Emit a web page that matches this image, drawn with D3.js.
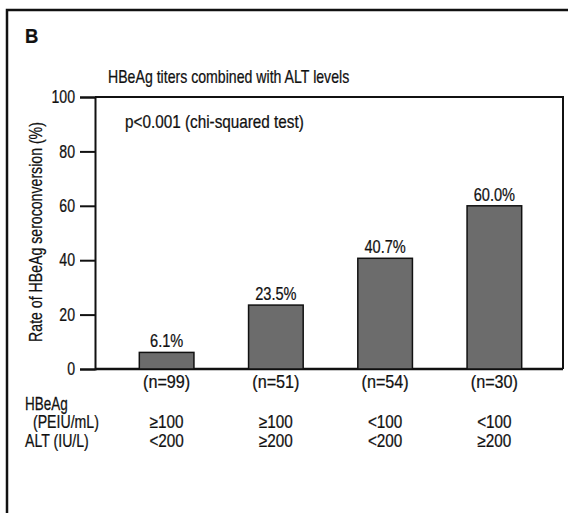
<!DOCTYPE html>
<html>
<head>
<meta charset="utf-8">
<script src="https://cdn.jsdelivr.net/npm/d3@7"></script>
<style>
  html, body { margin: 0; padding: 0; background: #fff; }
  svg text { font-family: "Liberation Sans", Arial, sans-serif; fill: #111; stroke: #111; stroke-width: 0.25px; }
</style>
</head>
<body>
<svg id="chart" width="568" height="513"></svg>
<script>
// Seroconversion rate by HBeAg titer / ALT group
const groups = ["g1", "g2", "g3", "g4"];
const rates = [6.1, 23.5, 40.7, 60.0];
const rateLabels = ["6.1%", "23.5%", "40.7%", "60.0%"];
const nLabels = ["(n=99)", "(n=51)", "(n=54)", "(n=30)"];
const hbeagLevels = ["≥100", "≥100", "<100", "<100"];
const altLevels = ["<200", "≥200", "<200", "≥200"];
const yTicks = [0, 20, 40, 60, 80, 100];

const FS = 18;       // base font size
const SX = 0.785;    // horizontal condensing of the sans face

const svg = d3.select("#chart");

// condensed text helper: places a label at (x, y) and squeezes it horizontally
function label(parent, x, y, str, opt = {}) {
  const rot = opt.rotate ? ` rotate(${opt.rotate})` : "";
  return parent.append("text")
    .attr("transform", `translate(${x},${y})${rot} scale(${opt.sx || SX},1)`)
    .attr("text-anchor", opt.anchor || "start")
    .attr("font-size", opt.size || FS)
    .attr("font-weight", opt.weight || null)
    .text(str);
}

// panel frame (top and left edges)
svg.append("path")
  .attr("d", "M7,513 L7,10 L568,10")
  .attr("fill", "none").attr("stroke", "#111").attr("stroke-width", 2.5);

label(svg, 25, 43, "B", { size: 21, weight: "bold", sx: 0.88 });

label(svg, 108, 83, "HBeAg titers combined with ALT levels");

const plotL = 95, plotR = 563, plotT = 97, plotB = 369;

const y = d3.scaleLinear().domain([0, 100]).range([plotB, plotT]);
const x = d3.scaleBand().domain(groups).range([112, 549])
  .paddingInner(0.5).paddingOuter(0.25);

// plot box: top and right edges
svg.append("path")
  .attr("d", `M${plotL},${plotT} L${plotR},${plotT} L${plotR},${plotB}`)
  .attr("fill", "none").attr("stroke", "#111").attr("stroke-width", 2);

// baseline
svg.append("line")
  .attr("x1", plotL).attr("x2", plotR).attr("y1", plotB).attr("y2", plotB)
  .attr("stroke", "#111").attr("stroke-width", 2.5);

// y axis
const tickLen = 15, tickPad = 5;
const yAxis = svg.append("g").attr("transform", `translate(${plotL},0)`)
  .call(d3.axisLeft(y).tickValues(yTicks).tickSize(tickLen).tickPadding(tickPad).tickFormat(d3.format("d")));
yAxis.select(".domain").attr("stroke", "#111").attr("stroke-width", 2);
yAxis.selectAll(".tick line").attr("stroke", "#111").attr("stroke-width", 2);
yAxis.selectAll(".tick text")
  .attr("x", 0)
  .attr("transform", `translate(${-(tickLen + tickPad)},0) scale(${SX},1)`)
  .attr("font-size", FS)
  .style("font-family", "'Liberation Sans', Arial, sans-serif")
  .attr("fill", "#111");

label(svg, 42, 232, "Rate of HBeAg seroconversion (%)", { rotate: -90, anchor: "middle" });

label(svg, 125, 128, "p<0.001 (chi-squared test)", { sx: 0.85 });

// bars
svg.append("g").selectAll("rect").data(rates).join("rect")
  .attr("x", (d, i) => x(groups[i]))
  .attr("y", d => y(d))
  .attr("width", x.bandwidth())
  .attr("height", d => y(0) - y(d))
  .attr("fill", "#6c6c6c")
  .attr("stroke", "#111").attr("stroke-width", 1.5);

const cx = i => x(groups[i]) + x.bandwidth() / 2;

// value labels above bars
rates.forEach((d, i) => label(svg, cx(i), y(d) - 5, rateLabels[i], { anchor: "middle", sx: 0.81 }));

// group descriptors under the axis
const rows = [
  { vals: nLabels, y: 388, sx: 0.9 },
  { vals: hbeagLevels, y: 428, sx: 0.85 },
  { vals: altLevels, y: 447, sx: 0.85 }
];
rows.forEach(r => r.vals.forEach((v, i) => label(svg, cx(i), r.y, v, { anchor: "middle", sx: r.sx })));

label(svg, 25, 410, "HBeAg", { sx: 0.75 });
label(svg, 33, 428, "(PEIU/mL)");
label(svg, 25, 447, "ALT (IU/L)");
</script>
</body>
</html>
